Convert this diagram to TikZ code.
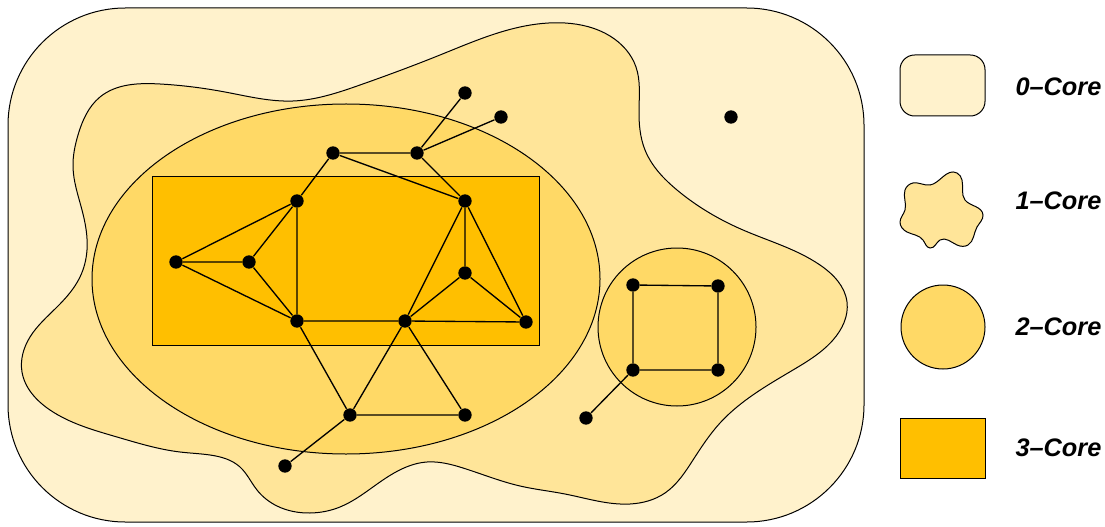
\documentclass[tikz,border=0pt]{standalone}
\usepackage{fontspec}
\setmainfont{Liberation Sans}
\usetikzlibrary{positioning,hobby}

\definecolor{coreA}{HTML}{FFF2CC}
\definecolor{coreB}{HTML}{FFE599}
\definecolor{coreC}{HTML}{FFD966}
\definecolor{coreD}{HTML}{FFBF00}

\tikzset{every picture/.style={line width=0.75pt}}
\tikzset{
  vtx/.style={circle,fill=black,inner sep=0pt,minimum size=10pt},
  link/.style={line width=1pt},
  corelbl/.style={anchor=west,inner sep=0.75pt,font=\fontsize{19}{22}\selectfont\bfseries\itshape}
}

\begin{document}
\begin{tikzpicture}[x=0.75pt,y=0.75pt,yscale=-1,xscale=1]
\useasboundingbox (0,0) rectangle (1105,527);

%Shape: Rounded Rect (0-core)
\draw [fill=coreA, rounded corners=88pt] (8,8) rectangle (864,522);
%Shape: Blob (1-core)
\draw [fill=coreB] plot [closed hobby] coordinates {
  (160,84) (225,92) (293,101) (360,85) (440,55) (520,27) (565,23) (610,36)
  (636,67) (639,110) (645,150) (677,190) (743,230) (820,265) (847,302)
  (833,340) (793,370) (750,397) (720,423) (693,460) (665,493) (630,504)
  (565,494) (520,486) (463,468) (427,462) (380,482) (340,507) (310,513)
  (277,506) (257,490) (240,467) (210,455) (180,452) (117,437) (50,410)
  (22,372) (30,337) (57,307) (80,277) (87,250) (82,210) (73,167) (78,135)
  (100,97)};
%Shape: Ellipse (2-core)
\draw [fill=coreC] (346,279) ellipse [x radius=254, y radius=175];
%Shape: Circle (2-core)
\draw [fill=coreC] (677,327) circle [radius=79];
%Shape: Rectangle (3-core)
\draw [fill=coreD] (152,177) rectangle (539,345);

% vertices
\node [vtx] (t1) at (465,93) {};
\node [vtx] (t2) at (501,117) {};
\node [vtx] (u1) at (333,153) {};
\node [vtx] (u2) at (417,153) {};
\node [vtx] (p1) at (297,201) {};
\node [vtx] (p2) at (465,201) {};
\node [vtx] (l1) at (176,262) {};
\node [vtx] (l2) at (249,262) {};
\node [vtx] (r1) at (465,273) {};
\node [vtx] (c1) at (297,321) {};
\node [vtx] (c2) at (405,321) {};
\node [vtx] (c3) at (526,322) {};
\node [vtx] (b1) at (350,415) {};
\node [vtx] (b2) at (465,415) {};
\node [vtx] (b0) at (285,466) {};
\node [vtx] (s1) at (633,285) {};
\node [vtx] (s2) at (718,286) {};
\node [vtx] (s3) at (633,370) {};
\node [vtx] (s4) at (718,370) {};
\node [vtx] (sd) at (586,418) {};
\node [vtx] (iso) at (731,117) {};

% edges
\draw [link] (t1) -- (u2) (t2) -- (u2) (u1) -- (u2) (u1) -- (p2) (u2) -- (p2);
\draw [link] (u1) -- (p1) (p1) -- (l1) (p1) -- (l2) (p1) -- (c1);
\draw [link] (l1) -- (l2) (l1) -- (c1) (l2) -- (c1);
\draw [link] (p2) -- (r1) (p2) -- (c2) (p2) -- (c3) (r1) -- (c2) (r1) -- (c3);
\draw [link] (c1) -- (c2) (c2) -- (c3) (c1) -- (b1) (c2) -- (b1) (c2) -- (b2);
\draw [link] (b1) -- (b2) (b1) -- (b0);
\draw [link] (s1) -- (s2) -- (s4) -- (s3) -- (s1) (s3) -- (sd);

%Legend shapes
\draw [fill=coreA, rounded corners=11pt] (900,55) rectangle (985,116);
\draw [fill=coreB] plot [closed hobby] coordinates {
  (905,190) (913,183) (930,185) (957,173) (962,180) (965,200) (983,215)
  (977,227) (968,245) (957,245) (940,240) (930,248) (923,240) (907,232)
  (900,222) (905,210)};
\draw [fill=coreC] (943,327) circle [radius=42];
\draw [fill=coreD] (900,418) rectangle (985,478);

% Text Node
\node [corelbl] (k0) at (1014,87) {0–Core};
% Text Node
\node [corelbl] (k1) at (1014,201) {1–Core};
% Text Node
\node [corelbl] (k2) at (1014,327) {2–Core};
% Text Node
\node [corelbl] (k3) at (1014,448) {3–Core};

\end{tikzpicture}
\end{document}
